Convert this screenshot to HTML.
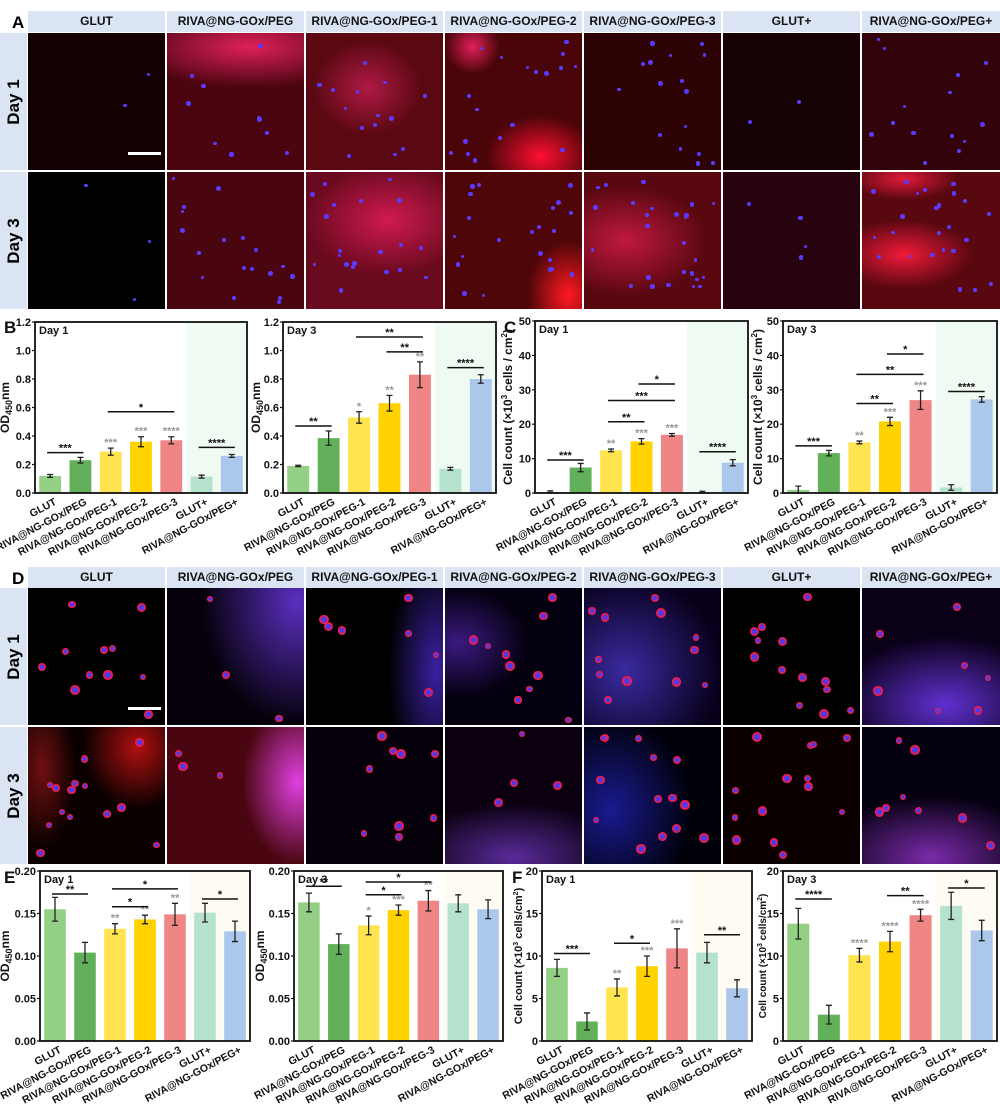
<!DOCTYPE html>
<html><head><meta charset="utf-8">
<style>
body{margin:0;width:1000px;height:1104px;background:#fff;position:relative;overflow:hidden;font-family:"Liberation Sans",Arial,sans-serif}
.hdr{position:absolute;background:#dbe4f3;font-weight:bold;font-size:12px;color:#111;text-align:center;line-height:21px}
.side{position:absolute;background:#dbe4f3;width:27px}
.side span{position:absolute;left:50%;top:50%;transform:translate(-50%,-50%) rotate(-90deg);font-weight:bold;font-size:17px;white-space:nowrap}
.img{position:absolute;overflow:hidden;background:#000}
.lt{position:absolute;font-weight:bold;font-size:17px}
svg{position:absolute;left:0;top:0}
</style></head><body>
<div id="root"></div>
<svg id="charts" width="1000" height="1104"></svg>
<script>
// ---------- chart data ----------
const cats=["GLUT","RIVA@NG-GOx/PEG","RIVA@NG-GOx/PEG-1","RIVA@NG-GOx/PEG-2","RIVA@NG-GOx/PEG-3","GLUT+","RIVA@NG-GOx/PEG+"];
const bD1vals=[0.12,0.23,0.29,0.36,0.37,0.115,0.26];
const bD1err=[0.01,0.02,0.025,0.035,0.025,0.01,0.01];
const bD1stars=["","","***","***","****","",""];
const bD1sig=[[0,1,0.283,"***"],[2,4,0.57,"*"],[5,6,0.32,"****"]];
const bD3vals=[0.19,0.385,0.53,0.63,0.83,0.17,0.80];
const bD3err=[0.005,0.05,0.04,0.055,0.09,0.01,0.03];
const bD3stars=["","","*","**","**","",""];
const bD3sig=[[0,1,0.47,"**"],[2,4,1.095,"**"],[3,4,0.99,"**"],[5,6,0.88,"****"]];
const cD1vals=[0.3,7.4,12.4,15.0,16.9,0.3,8.8];
const cD1err=[0.3,1.2,0.4,0.8,0.4,0.2,0.9];
const cD1stars=["","","**","***","***","",""];
const cD1sig=[[0,1,9.6,"***"],[2,3,20.7,"**"],[2,4,26.9,"***"],[3,4,31.7,"*"],[5,6,12,"****"]];
const cD3vals=[0.9,11.6,14.7,20.8,27.0,1.6,27.2];
const cD3err=[1.1,0.8,0.4,1.2,2.7,0.8,0.8];
const cD3stars=["","","**","***","***","",""];
const cD3sig=[[0,1,13.7,"***"],[2,3,26,"**"],[2,4,34.5,"**"],[3,4,40.4,"*"],[5,6,29.5,"****"]];
const eD1vals=[0.155,0.104,0.132,0.143,0.149,0.151,0.129];
const eD1err=[0.014,0.012,0.006,0.005,0.013,0.011,0.012];
const eD1stars=["","","**","**","**","",""];
const eD1sig=[[0,1,0.173,"**"],[2,3,0.158,"*"],[2,4,0.179,"*"],[5,6,0.167,"*"]];
const eD3vals=[0.163,0.114,0.136,0.154,0.165,0.162,0.155];
const eD3err=[0.011,0.012,0.011,0.006,0.012,0.01,0.011];
const eD3stars=["","","*","***","**","",""];
const eD3sig=[[0,1,0.182,"**"],[2,3,0.172,"*"],[2,4,0.187,"*"]];
const fD1vals=[8.6,2.3,6.3,8.8,10.9,10.4,6.2];
const fD1err=[1.0,1.0,1.0,1.2,2.3,1.2,1.0];
const fD1stars=["","","**","***","***","",""];
const fD1sig=[[0,1,10.3,"***"],[2,3,11.5,"*"],[5,6,12.5,"**"]];
const fD3vals=[13.8,3.1,10.1,11.7,14.8,15.9,13.0];
const fD3err=[1.8,1.1,0.8,1.2,0.7,1.6,1.2];
const fD3stars=["","","****","****","****","",""];
const fD3sig=[[0,1,16.7,"****"],[3,4,17.1,"**"],[5,6,18,"*"]];
const tickB=[0,0.2,0.4,0.6,0.8,1.0,1.2];
const tickC=[0,10,20,30,40,50];
const tickE=[0,0.05,0.10,0.15,0.20];
const tickF=[0,5,10,15,20];

// ---------- image panels ----------
const root=document.getElementById('root');
const colX=[28,167,306,445,584,723,862];
const colW=137;
const heads=["GLUT","RIVA@NG-GOx/PEG","RIVA@NG-GOx/PEG-1","RIVA@NG-GOx/PEG-2","RIVA@NG-GOx/PEG-3","GLUT+","RIVA@NG-GOx/PEG+"];
function div(cls,style,html){const d=document.createElement('div');d.className=cls;d.style.cssText=style;if(html)d.innerHTML=html;root.appendChild(d);return d;}
const bgA1=["#140203","radial-gradient(ellipse 90% 30% at 60% 10%,#e0205a,transparent),#4a0510","radial-gradient(ellipse 40% 35% at 45% 40%,#b01a45,transparent),#5a0812","radial-gradient(ellipse 40% 30% at 70% 90%,#ff1030,transparent),radial-gradient(ellipse 20% 20% at 20% 10%,#e0205a,transparent),#4a0508","#2e0306","#160203","#32040a"];
const bgA3=["#020000","#4a0610","radial-gradient(ellipse 60% 40% at 60% 35%,#d01a50,transparent),#6a0a1e","radial-gradient(ellipse 30% 40% at 90% 90%,#ff1a20,transparent),#4e0608","radial-gradient(ellipse 60% 40% at 30% 50%,#c01840,transparent),#5a0810","#280410","radial-gradient(ellipse 50% 25% at 30% 60%,#f01a3a,transparent),radial-gradient(ellipse 40% 15% at 30% 5%,#e01a3a,transparent),#5a0810"];
const bgD1=["#000","radial-gradient(ellipse 70% 90% at 95% 10%,#5a2fc0,transparent),#05000a","radial-gradient(ellipse 35% 90% at 95% 60%,#3a20a0,transparent),#000","radial-gradient(ellipse 50% 40% at 10% 40%,#3a1a80,transparent),#050010","radial-gradient(ellipse 70% 70% at 30% 60%,#3a2aa0,transparent),#08001a","#000","radial-gradient(ellipse 80% 50% at 60% 85%,#6030d0,transparent),#0a0018"];
const bgD3=["radial-gradient(ellipse 40% 45% at 80% 15%,#b01010,transparent),radial-gradient(ellipse 25% 60% at 10% 30%,#701010,transparent),#0a0000","radial-gradient(ellipse 40% 60% at 95% 40%,#e040e0,transparent),#4a0610","#05000a","radial-gradient(ellipse 80% 40% at 50% 95%,#5a2a9a,transparent),#0a0010","radial-gradient(ellipse 60% 70% at 20% 60%,#1a1a90,transparent),#000008","#0a0000","radial-gradient(ellipse 80% 45% at 50% 95%,#7a2aaa,transparent),#050010"];
let seed=7;function rnd(){seed=(seed*16807)%2147483647;return seed/2147483647;}
const nDots=[[2,10,14,18,16,2,14],[3,18,20,22,26,4,24],[11,3,7,10,12,13,7],[14,3,9,4,14,14,8]];
function panelBlock(top,hdrTop,rows,bgs,dotStyle,letter,prefix){
  const l=div('lt','left:12px;top:'+(hdrTop+2)+'px','<span>'+letter+'</span>');
  
  heads.forEach((h,i)=>{const d=div('hdr','left:'+colX[i]+'px;top:'+hdrTop+'px;width:'+(i==6?1000-colX[i]:colW)+'px;height:21px',h);
    });
  rows.forEach((r,ri)=>{
    const s=div('side','left:0;top:'+r.y+'px;height:'+r.h+'px','<span>'+r.label+'</span>');
    
    for(let i=0;i<7;i++){
      const p=div('img','left:'+colX[i]+'px;top:'+r.y+'px;width:'+(i==6?1000-colX[i]:colW)+'px;height:'+r.h+'px;background:'+bgs[ri][i]);
      
      const n=nDots[dotStyle+ri][i];
      for(let k=0;k<n;k++){const c=document.createElement('div');const sz=dotStyle? 6+rnd()*4:3+rnd()*2;
        c.style.cssText='position:absolute;border-radius:50%;left:'+(rnd()*125+4)+'px;top:'+(rnd()*125+4)+'px;width:'+sz+'px;height:'+sz+'px;background:'+(dotStyle?'radial-gradient(circle,#4a3af0 30%,#ff1a3a 60%)':'#5a3aff');
        p.appendChild(c);}
      if(ri==0&&i==0){const b=document.createElement('div');b.style.cssText='position:absolute;left:100px;top:'+(r.h-18)+'px;width:33px;height:3px;background:#fff';p.appendChild(b);}
    }
  });
}
panelBlock(0,11,[{y:33,h:137,label:'Day 1'},{y:172,h:137,label:'Day 3'}],[bgA1,bgA3],0,'A','panel-a');
panelBlock(0,567,[{y:588,h:137,label:'Day 1'},{y:727,h:137,label:'Day 3'}],[bgD1,bgD3],2,'D','panel-d');

// ---------- charts ----------
const NS='http://www.w3.org/2000/svg';
const svg=document.getElementById('charts');
const colors=["#93cf84","#62b05a","#ffe34f","#ffd200","#ef8585","#b5e2cc","#abc7ec"];
function el(tag,attrs,parent,text){const e=document.createElementNS(NS,tag);for(const k in attrs)e.setAttribute(k,attrs[k]);if(text!==undefined)e.textContent=text;(parent||svg).appendChild(e);return e;}
function chart(g,vals,err,stars,sig,ticks,dec,shade,title,ytitle,ytx,ytsize){
  const grp=el('g',{});
  
  const max=ticks[ticks.length-1];
  const X=i=>g.x0+(g.x1-g.x0)*(i+0.5)/7;
  const Y=v=>g.y1-(v/max)*(g.y1-g.y0);
  const step=(g.x1-g.x0)/7;
  const sh=el('rect',{x:X(4.5),y:g.y0,width:g.x1-X(4.5),height:g.y1-g.y0,fill:shade},grp);
  
  vals.forEach((v,i)=>{
    const r=el('rect',{x:X(i)-step*0.36,y:Y(v),width:step*0.72,height:g.y1-Y(v),fill:colors[i]},grp);
    
    const e=err[i],a=Y(v+e),b=Y(Math.max(0,v-e));
    const eb=el('path',{d:`M${X(i)},${a}V${b}M${X(i)-3},${a}h6M${X(i)-3},${b}h6`,stroke:'#222','stroke-width':1.3,fill:'none'},grp);
    
    if(stars[i]){const t=el('text',{x:X(i),y:a-2,'text-anchor':'middle','font-size':11,'font-weight':'bold',fill:'#999'},grp,stars[i]);
      }
    const lx=el('text',{transform:`translate(${X(i)+7},${g.y1+11}) rotate(-28)`,'text-anchor':'end','font-size':10.5,'font-weight':'bold',fill:'#111'},grp,cats[i]);
    
  });
  sig.forEach(s=>{const y=Y(s[2]);
    const l=el('line',{x1:X(s[0])-3,x2:X(s[1])+3,y1:y,y2:y,stroke:'#111','stroke-width':1.5},grp);
    
    const t=el('text',{x:(X(s[0])+X(s[1]))/2,y:y-1,'text-anchor':'middle','font-size':11,'font-weight':'bold',fill:'#111'},grp,s[3]);
    });
  const fr=el('rect',{x:g.x0,y:g.y0,width:g.x1-g.x0,height:g.y1-g.y0,fill:'none',stroke:'#111','stroke-width':1.8},grp);
  
  ticks.forEach(t=>{const y=Y(t);
    el('line',{x1:g.x0-3,x2:g.x0,y1:y,y2:y,stroke:'#111','stroke-width':1.2},grp);
    const tl=el('text',{x:g.x0-4,y:y+4,'text-anchor':'end','font-size':11,'font-weight':'bold',fill:'#111'},grp,t.toFixed(dec));
    });
  const tt=el('text',{x:g.x0+4,y:g.y0+12,'font-size':11,'font-weight':'bold',fill:'#111'},grp,title);
  
  const yt=el('text',{transform:`translate(${ytx},${(g.y0+g.y1)/2}) rotate(-90)`,'text-anchor':'middle','font-size':ytsize,'font-weight':'bold',fill:'#111'},grp);
  yt.innerHTML=ytitle;
  
}
const OD='OD<tspan font-size="9" dy="3">450</tspan><tspan dy="-3">nm</tspan>';
const CC1='Cell count (×10<tspan font-size="8" dy="-5">3</tspan><tspan dy="5"> cells / cm</tspan><tspan font-size="8" dy="-5">2</tspan><tspan dy="5">)</tspan>';
const CC2='Cell count (×10<tspan font-size="7" dy="-4">3</tspan><tspan dy="4"> cells/cm</tspan><tspan font-size="7" dy="-4">2</tspan><tspan dy="4">)</tspan>';
const G="#effaf3",Yl="#fdfbf2";
chart({x0:35,x1:247,y0:322,y1:493,name:'chart-b-day1'},bD1vals,bD1err,bD1stars,bD1sig,tickB,1,G,'Day 1',OD,9,12);
chart({x0:283,x1:496,y0:322,y1:493,name:'chart-b-day3'},bD3vals,bD3err,bD3stars,bD3sig,tickB,1,G,'Day 3',OD,260,12);
chart({x0:535,x1:748,y0:321,y1:493,name:'chart-c-day1'},cD1vals,cD1err,cD1stars,cD1sig,tickC,0,G,'Day 1',CC1,512,12);
chart({x0:783,x1:997,y0:321,y1:493,name:'chart-c-day3'},cD3vals,cD3err,cD3stars,cD3sig,tickC,0,G,'Day 3',CC1,762,12);
chart({x0:40,x1:250,y0:871,y1:1041,name:'chart-e-day1'},eD1vals,eD1err,eD1stars,eD1sig,tickE,2,Yl,'Day 1',OD,9,12);
chart({x0:294,x1:503,y0:871,y1:1041,name:'chart-e-day3'},eD3vals,eD3err,eD3stars,eD3sig,tickE,2,Yl,'Day 3',OD,264,12);
chart({x0:542,x1:752,y0:871,y1:1041,name:'chart-f-day1'},fD1vals,fD1err,fD1stars,fD1sig,tickF,0,Yl,'Day 1',CC2,522,11);
chart({x0:783,x1:997,y0:871,y1:1041,name:'chart-f-day3'},fD3vals,fD3err,fD3stars,fD3sig,tickF,0,Yl,'Day 3',CC2,766,10);
[['B',4,333],['C',504,333],['E',4,883],['F',512,883]].forEach(p=>{
  const t=el('text',{x:p[1],y:p[2],'font-size':17,'font-weight':'bold',fill:'#111'},svg,p[0]);
  });
</script>
</body></html>
